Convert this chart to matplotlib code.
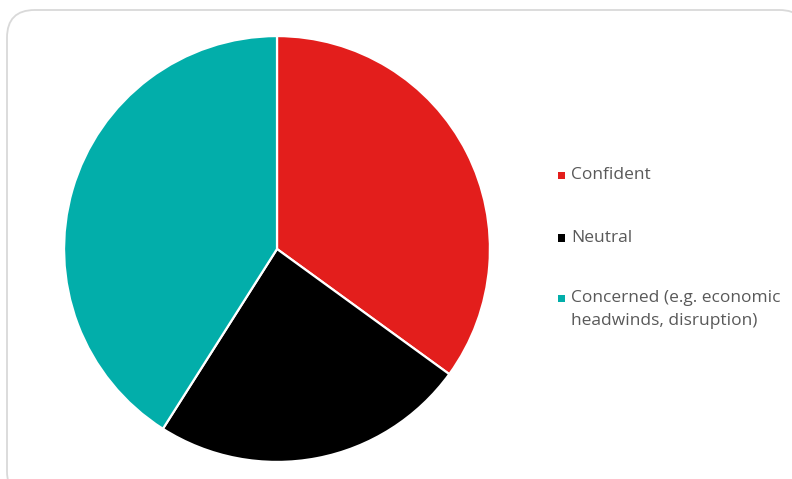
import matplotlib.pyplot as plt
from matplotlib.patches import FancyBboxPatch, Rectangle

labels = ['Confident', 'Neutral', 'Concerned (e.g. economic\nheadwinds, disruption)']
values = [35, 24, 41]
colors = ['#E31E1C', '#000000', '#02AEAA']

W, H = 792, 479
fig = plt.figure(figsize=(W / 100, H / 100), dpi=100)

# rounded frame of the chart area (behind everything)
frame = FancyBboxPatch((7 / W, -20 / H), 800 / W, (H - 10 + 20) / H,
                       boxstyle='round,pad=0,rounding_size=0.035',
                       transform=fig.transFigure, facecolor='white',
                       edgecolor='#d9d9d9', linewidth=1.3, zorder=-5,
                       mutation_aspect=W / H)
fig.patches.append(frame)

# pie centred at (277, 249) px with radius 214 px
cx, cy, r = 277, 249, 214
ax = fig.add_axes([(cx - r) / W, (H - cy - r) / H, 2 * r / W, 2 * r / H])
ax.pie(values, colors=colors, startangle=90, counterclock=False, radius=1,
       wedgeprops=dict(edgecolor='white', linewidth=1.6))
ax.set_xlim(-1.005, 1.005)
ax.set_ylim(-1.005, 1.005)
ax.set_aspect('equal')
ax.axis('off')

# legend on the right
ys = [175, 238, 298]
for lab, col, y in zip(labels, colors, ys):
    fig.patches.append(Rectangle((558 / W, (H - y - 3.5) / H), 7 / W, 7 / H,
                                 transform=fig.transFigure, facecolor=col,
                                 edgecolor='none'))
    if '\n' in lab:
        fig.text(571 / W, (H - y + 8) / H, lab, fontsize=12.5, color='#595959',
                 family='Open Sans', va='top', linespacing=1.55)
    else:
        fig.text(571 / W, (H - y) / H, lab, fontsize=12.5, color='#595959',
                 family='Open Sans', va='center')

fig.savefig('out.png', dpi=100)
